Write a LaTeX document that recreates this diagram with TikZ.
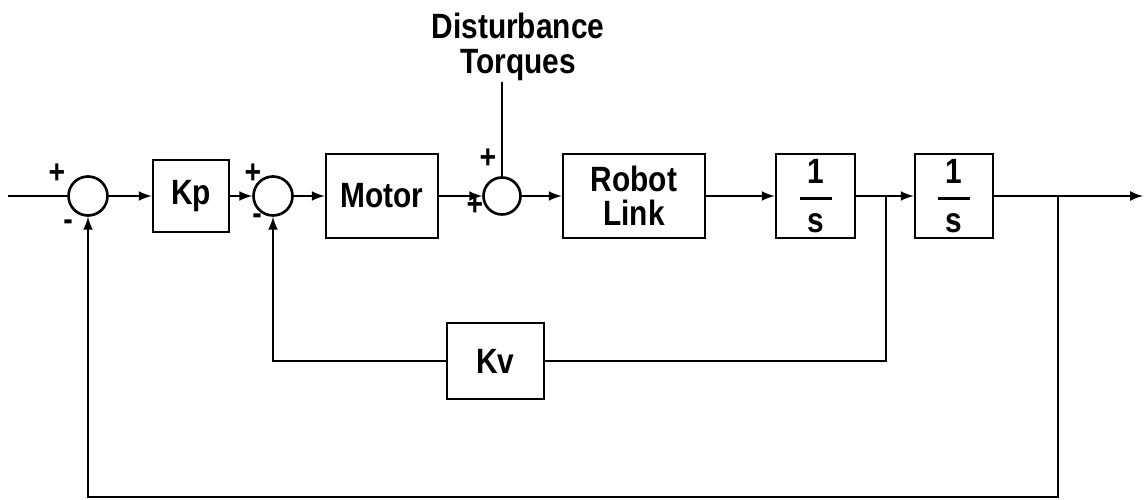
\documentclass[tikz,border=0pt]{standalone}
\usepackage{amsmath}
\usepackage{fontspec}
\setmainfont{Liberation Sans}[FakeStretch=0.85]
\usetikzlibrary{positioning, calc, arrows}

\begin{document}
\begin{tikzpicture}[circ/.style = {draw, circle, minimum size=7.8mm, inner sep=0pt},
  blk/.style = {draw, inner sep=0pt, minimum height=16.8mm},
  sgn/.style = {inner sep=0pt, font=\bfseries\fontsize{19}{19}\selectfont},
  line width=1.5pt, font=\bfseries\fontsize{20}{19.5}\selectfont ]

\useasboundingbox (-1.76,3.92) rectangle (21.14,-6.08);

%--- Nodes ---
% sum_p
\node[circ] (sum_p) at (0, 0) {};
\node[sgn] (sum_p_plus)  at ([shift={(-0.62,0.44)}]sum_p.center) {+};
\node[sgn] (sum_p_minus) at ([shift={(-0.40,-0.58)}]sum_p.center) {-};

% Kp
\node[blk, minimum width=15.2mm, minimum height=14.4mm] (Kp) at (2.06, 0) {Kp};

% sum_v
\node[circ] (sum_v) at (3.70, 0) {};
\node[sgn] (sum_v_plus)  at ([shift={(-0.40,0.44)}]sum_v.center) {+};
\node[sgn] (sum_v_minus) at ([shift={(-0.32,-0.46)}]sum_v.center) {-};

% Motor
\node[blk, minimum width=22.4mm] (Motor) at (5.88, 0) {Motor};

% sum_d
\node[circ, minimum size=7.4mm] (sum_d) at (8.28, 0) {};
\node[sgn] (sum_d_top)  at ([shift={(-0.28,0.74)}]sum_d.center) {+};
\node[sgn] (sum_d_left) at ([shift={(-0.54,-0.20)}]sum_d.center) {+};

% Robot link
\node[blk, minimum width=28.4mm, align=center] (Link) at (10.92, 0) {Robot\\Link};

% integrators
\node[blk, minimum width=15.8mm] (int1) at (14.55, 0)
  {$\genfrac{}{}{1.5pt}{0}{\makebox[6.4mm]{1}}{\makebox[6.4mm]{s}}$};
\node[blk, minimum width=15.6mm] (int2) at (17.32, 0)
  {$\genfrac{}{}{1.5pt}{0}{\makebox[6.4mm]{1}}{\makebox[6.4mm]{s}}$};

% Kv
\node[blk, minimum width=19.4mm, minimum height=15.2mm] (Kv) at (8.15, -3.30) {Kv};

% disturbance label
\node[align=center, inner sep=0pt] (dist) at (8.6, 2.98) {Disturbance\\Torques};

%--- Helper points ---
\coordinate (in)   at (-1.6, 0);
\coordinate (out)  at (21.1, 0);
\coordinate (br1)  at (15.96, 0);
\coordinate (br2)  at (19.40, 0);
\coordinate (dtop) at (8.28, 2.28);
\coordinate (bot)  at (19.40, -6.02);

%--- Forward path ---
\draw (in) -- (sum_p);
\draw[-latex] (sum_p) -- (Kp);
\draw[-latex] (Kp) -- (sum_v);
\draw[-latex] (sum_v) -- (Motor);
\draw[-latex] (Motor) -- (sum_d);
\draw (dtop) -- (sum_d);
\draw[-latex] (sum_d) -- (Link);
\draw[-latex] (Link) -- (int1);
\draw[-latex] (int1) -- (int2);
\draw[-latex] (int2) -- (out);

%--- Velocity loop through Kv ---
\draw (br1) |- (Kv);
\draw[-latex] (Kv) -| (sum_v);

%--- Position loop ---
\draw[-latex] (br2) -- (bot) -| (sum_p);

\end{tikzpicture}
\end{document}
